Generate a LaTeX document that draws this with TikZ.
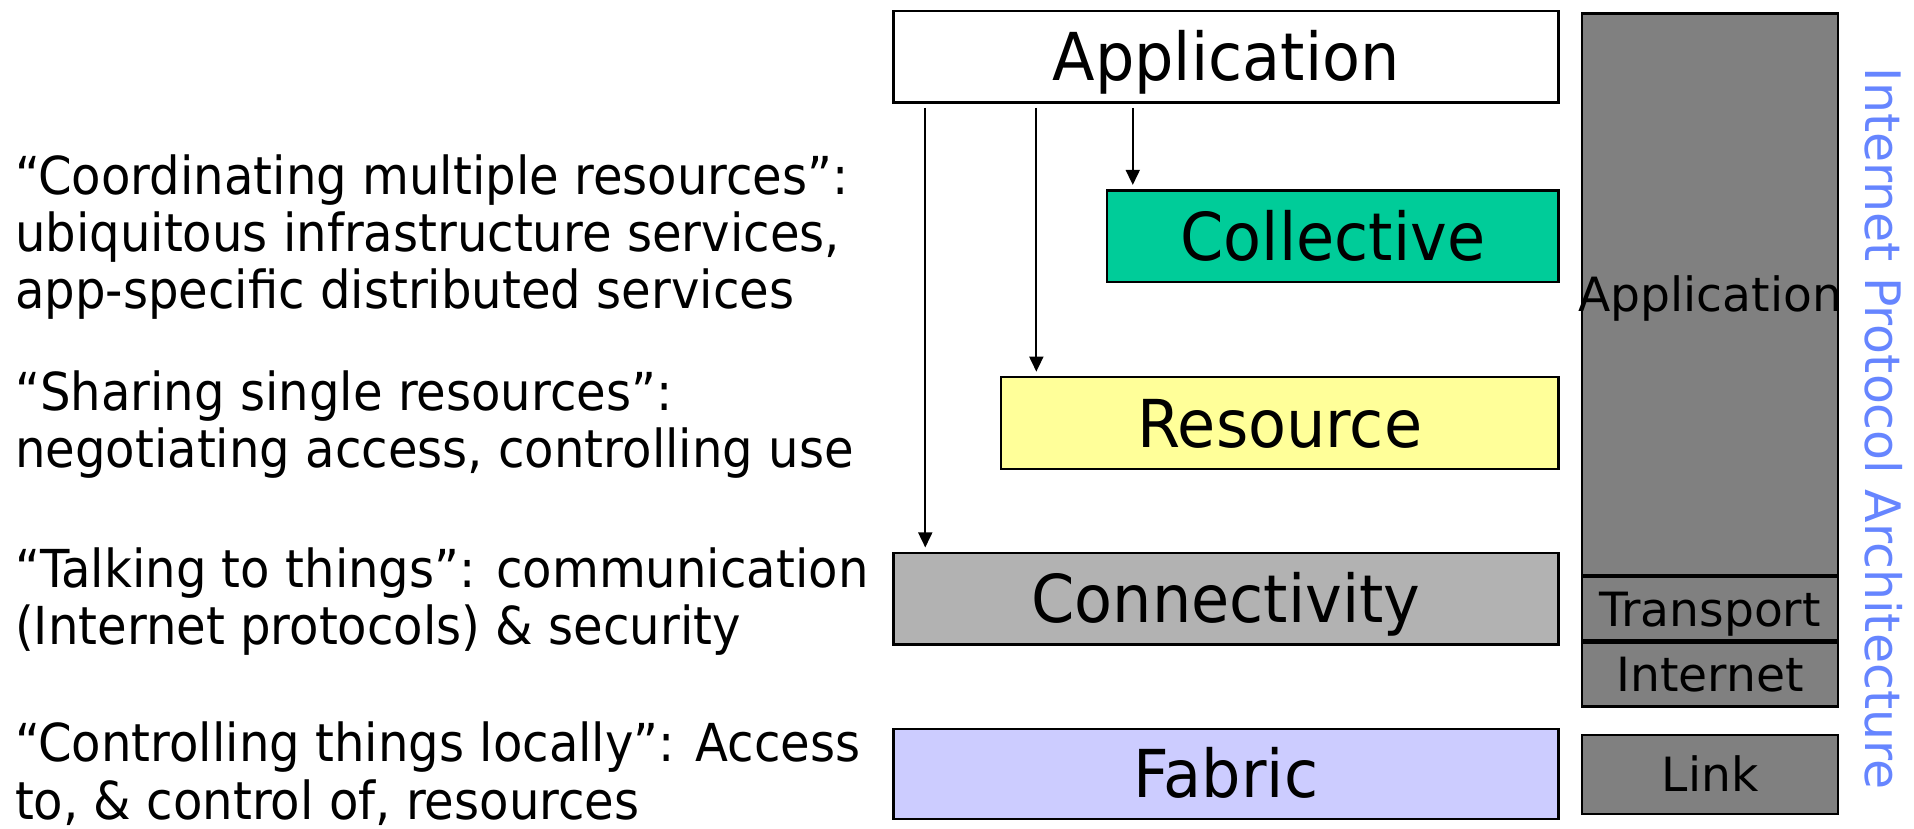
\documentclass[tikz,border=0pt]{standalone}
\usepackage{fontspec}
\setmainfont{DejaVu Sans}
\newfontfamily\narrowfont[FakeStretch=0.92]{DejaVu Sans}
\newfontfamily\layerfont[FakeStretch=0.94]{DejaVu Sans}
\usepackage{tikz}
\usetikzlibrary{arrows.meta,calc}
\usepackage{xcolor}
\definecolor{collgreen}{HTML}{00CC99}
\definecolor{resyellow}{HTML}{FFFF99}
\definecolor{conngray}{HTML}{B2B2B2}
\definecolor{fablilac}{HTML}{CCCCFF}
\definecolor{stackgray}{HTML}{808080}
\definecolor{ipblue}{RGB}{102,133,255}

\begin{document}
\begin{tikzpicture}[x=0.02cm,y=-0.02cm,
    layer/.style={draw,line width=1.1pt,anchor=north west,inner sep=0pt,minimum height=1.5cm,
                  text height=22.5pt,text depth=0pt,font=\layerfont\fontsize{30.8}{30.8}\selectfont},
    stack/.style={draw,line width=1.1pt,fill=stackgray,anchor=north west,inner sep=0pt,minimum width=4.2cm,
                  text height=16pt,text depth=0pt,font=\fontsize{22}{22}\selectfont},
    desc/.style={anchor=base west,align=left,inner sep=0pt,font=\narrowfont\fontsize{24.4}{26.7}\selectfont},
    flow/.style={-{Triangle[length=7pt,width=6.5pt]},line width=0.9pt,shorten <=2pt,shorten >=2pt}]
    \useasboundingbox (0,0) rectangle (1568,679);

    % grid layers
    \node[layer,minimum width=10.9cm]                (app)  at (731,8)   {Application};
    \node[layer,minimum width=7.4cm,fill=collgreen]  (coll) at (906,155) {Collective};
    \node[layer,minimum width=9.14cm,fill=resyellow] (res)  at (819,308) {Resource};
    \node[layer,minimum width=10.9cm,fill=conngray]  (conn) at (731,452) {Connectivity};
    \node[layer,minimum width=10.9cm,fill=fablilac,minimum height=1.48cm] (fab) at (731,596) {Fabric};

    \coordinate (collin) at ([xshift=0.44cm]coll.north west);
    \coordinate (resin)  at ([xshift=0.6cm]res.north west);
    \coordinate (connin) at ([xshift=0.54cm]conn.north west);
    \draw[flow] (app.south -| collin) -- (collin);
    \draw[flow] (app.south -| resin)  -- (resin);
    \draw[flow] (app.south -| connin) -- (connin);

    % internet stack
    \node[stack,minimum height=9.2cm,
          label={[font=\fontsize{22}{22}\selectfont,text height=16pt,text depth=0pt]center:Application}] (ipapp) at (1295,10) {};
    \node[stack,minimum height=1.04cm,anchor=north] (iptrans) at (ipapp.south)   {Transport};
    \node[stack,minimum height=1.04cm,anchor=north] (ipnet)   at (iptrans.south) {Internet};
    \node[stack,minimum height=1.3cm]               (iplink)  at (1295,601)      {Link};

    \node[rotate=-90,text=ipblue,inner sep=0pt,text height=16.6pt,text depth=0pt,
          font=\fontsize{22.8}{22.8}\selectfont] (iparch) at (1543,351) {Internet Protocol Architecture};

    % descriptions (anchored at the last line)
    \node[desc] (dcoll) at (12,253) {“Coordinating multiple resources”:\\ubiquitous infrastructure services,\\app-specific distributed services};
    \node[desc] (dres)  at (12,383) {“Sharing single resources”:\\negotiating access, controlling use};
    \node[desc] (dconn) at (12,528) {“Talking to things”: communication\\(Internet protocols) \& security};
    \node[desc] (dfab)  at (12,671) {“Controlling things locally”: Access\\to, \& control of, resources};
\end{tikzpicture}
\end{document}
